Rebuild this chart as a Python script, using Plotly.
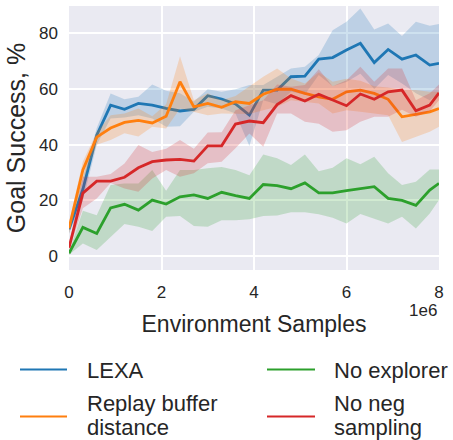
import plotly.graph_objects as go

# ---------------- data ----------------
x_steps_m = [0, 0.3, 0.6, 0.9, 1.2, 1.5, 1.8, 2.1, 2.4, 2.7, 3.0, 3.3, 3.6, 3.9,
             4.2, 4.5, 4.8, 5.1, 5.4, 5.7, 6.0, 6.3, 6.6, 6.9, 7.2, 7.5, 7.8, 8.0]

lexa_mean = [9.6, 24.0, 43.4, 54.2, 52.7, 54.8, 54.2, 53.0, 52.1, 52.7, 57.6, 56.4, 54.6, 50.6,
             59.6, 59.6, 64.4, 64.6, 70.7, 71.3, 74.0, 76.4, 69.5, 74.2, 70.7, 72.2, 68.6, 69.2]
lexa_upper = [11.0, 28.0, 46.0, 58.4, 56.3, 57.2, 61.6, 59.4, 58.5, 55.5, 59.9, 59.0, 59.9, 61.4,
              61.4, 64.4, 67.4, 68.0, 72.2, 81.1, 84.1, 88.9, 81.4, 83.5, 79.0, 84.1, 82.7, 83.3]
lexa_lower = [8.0, 20.0, 40.0, 49.4, 49.8, 50.6, 49.4, 46.4, 46.6, 51.8, 53.6, 53.0, 51.2, 39.5,
              56.0, 54.5, 59.0, 58.0, 65.0, 61.0, 62.5, 65.5, 60.0, 65.0, 62.0, 58.5, 56.0, 58.5]

replay_mean = [10.0, 30.9, 42.7, 46.0, 48.0, 48.7, 47.8, 50.2, 62.6, 53.6, 54.8, 53.4, 55.4, 54.8,
               58.1, 59.9, 59.9, 58.4, 57.2, 56.3, 59.0, 59.6, 58.4, 56.3, 50.0, 51.0, 51.8, 53.0]
replay_upper = [12.0, 34.0, 44.5, 50.6, 51.2, 53.0, 50.2, 54.5, 71.8, 56.0, 58.5, 56.0, 57.5, 61.0,
                64.4, 67.4, 63.8, 62.0, 66.0, 62.6, 63.7, 63.0, 61.0, 60.5, 59.6, 59.6, 59.0, 59.0]
replay_lower = [8.0, 27.0, 40.0, 41.7, 44.1, 42.9, 46.4, 45.8, 53.0, 51.8, 50.6, 51.2, 51.2, 51.0,
                52.4, 53.6, 56.0, 55.4, 54.8, 51.2, 52.4, 51.8, 51.2, 50.6, 41.0, 42.8, 44.6, 46.4]

noexp_mean = [1.0, 10.3, 8.1, 17.3, 18.6, 16.5, 20.1, 18.7, 21.3, 22.0, 20.7, 22.9, 21.7, 20.7,
              25.7, 25.3, 24.2, 26.3, 22.7, 22.7, 23.5, 24.2, 24.9, 20.7, 20.0, 18.2, 23.7, 26.1]
noexp_upper = [1.5, 16.3, 14.7, 25.5, 26.1, 26.1, 30.9, 23.5, 30.9, 30.9, 31.5, 32.0, 30.9, 29.0,
               36.5, 35.1, 32.7, 36.5, 30.5, 31.7, 35.1, 33.0, 35.7, 29.7, 25.5, 26.7, 31.1, 31.1]
noexp_lower = [0.5, 4.5, 2.2, 6.9, 11.5, 10.5, 9.0, 14.1, 14.4, 10.8, 10.5, 12.9, 12.9, 13.2,
               14.4, 14.6, 15.7, 15.7, 15.0, 13.8, 11.7, 15.1, 13.5, 11.7, 14.1, 9.9, 15.3, 20.1]

noneg_mean = [3.0, 22.6, 26.9, 26.9, 28.3, 31.7, 33.9, 34.5, 34.7, 34.1, 39.6, 39.6, 47.4, 48.5,
              47.9, 54.4, 57.6, 55.7, 58.1, 56.0, 54.0, 58.2, 56.3, 59.0, 59.6, 52.2, 54.2, 58.6]
noneg_upper = [4.0, 28.5, 28.5, 29.5, 33.2, 39.9, 37.4, 38.5, 41.7, 38.5, 44.4, 44.5, 52.4, 54.2,
               56.0, 61.6, 60.8, 61.4, 67.1, 61.0, 63.1, 68.0, 62.6, 67.4, 67.4, 56.0, 58.5, 61.6]
noneg_lower = [2.0, 17.2, 20.7, 26.2, 24.3, 23.1, 27.9, 30.9, 28.5, 29.7, 33.3, 33.9, 38.7, 44.0,
               39.3, 51.2, 51.2, 48.2, 47.5, 44.6, 45.2, 48.2, 50.0, 50.0, 52.5, 50.0, 52.0, 56.0]

series_names = ["LEXA", "Replay buffer<br>distance", "No explorer", "No neg<br>sampling"]
x_tick_vals_m = [0, 2, 4, 6, 8]
x_tick_text = ["0", "2", "4", "6", "8"]
y_tick_vals = [0, 20, 40, 60, 80]
y_tick_text = ["0", "20", "40", "60", "80"]

# ---------------- style ----------------
colors = ["#1f77b4", "#ff7f0e", "#2ca02c", "#d62728"]
band_colors = ["rgba(31,119,180,0.22)", "rgba(255,127,14,0.22)",
               "rgba(44,160,44,0.22)", "rgba(214,39,40,0.22)"]
FONT = "Liberation Sans, Arial, Helvetica, sans-serif"
TXT = "#262626"

W, H = 453, 440
L, R, T, B = 69, 14, 6, 170
PW, PH = W - L - R, H - T - B

def px_x(px):
    return (px - L) / PW

def px_y(py):
    return (H - B - py) / PH

x = [v * 1e6 for v in x_steps_m]
means = [lexa_mean, replay_mean, noexp_mean, noneg_mean]
uppers = [lexa_upper, replay_upper, noexp_upper, noneg_upper]
lowers = [lexa_lower, replay_lower, noexp_lower, noneg_lower]

fig = go.Figure()
for i in range(4):
    fig.add_trace(go.Scatter(x=x, y=lowers[i], mode="lines", line=dict(width=0),
                             hoverinfo="skip", showlegend=False))
    fig.add_trace(go.Scatter(x=x, y=uppers[i], mode="lines", line=dict(width=0),
                             fill="tonexty", fillcolor=band_colors[i],
                             hoverinfo="skip", showlegend=False))
    fig.add_trace(go.Scatter(x=x, y=means[i], mode="lines", name=series_names[i],
                             line=dict(color=colors[i], width=2.8), showlegend=False))

# manual legend (2 x 2 grid)
legend_layout = [
    (20, 67, 369.5, 86, [370]),
    (20, 67, 416.5, 86, [403, 427]),
    (267, 315, 369.5, 333, [370]),
    (267, 315, 416.5, 333, [403, 427]),
]
for i, (lx0, lx1, ly, tx, tys) in enumerate(legend_layout):
    fig.add_shape(type="line", xref="paper", yref="paper",
                  x0=px_x(lx0), x1=px_x(lx1), y0=px_y(ly), y1=px_y(ly),
                  line=dict(color=colors[i], width=2.2))
    parts = series_names[i].split("<br>")
    for part, ty in zip(parts, tys):
        fig.add_annotation(text=part, xref="paper", yref="paper",
                           x=px_x(tx - 1), y=px_y(ty), xanchor="left", yanchor="middle",
                           showarrow=False, font=dict(family=FONT, size=22, color=TXT))

# offset label
fig.add_annotation(text="1e6", xref="paper", yref="paper", x=px_x(439), y=px_y(310),
                   xanchor="right", yanchor="middle", showarrow=False,
                   font=dict(family=FONT, size=17, color=TXT))

fig.update_layout(
    width=W, height=H,
    margin=dict(l=L, r=R, t=T, b=B),
    paper_bgcolor="white",
    plot_bgcolor="#EAEAF2",
    font=dict(family=FONT, color=TXT),
    showlegend=False,
    xaxis=dict(range=[0, 8e6], tickvals=[v * 1e6 for v in x_tick_vals_m], ticktext=x_tick_text,
               showgrid=True, gridcolor="white", gridwidth=1.6, zeroline=False,
               showline=False, ticks="", ticklabelstandoff=10,
               tickfont=dict(size=17, color=TXT),
               title=dict(text="Environment Samples", font=dict(size=23, color=TXT), standoff=14)),
    yaxis=dict(range=[-5.0, 89.8], tickvals=y_tick_vals, ticktext=y_tick_text,
               showgrid=True, gridcolor="white", gridwidth=1.6, zeroline=False,
               showline=False, ticks="", ticklabelstandoff=10,
               tickfont=dict(size=17, color=TXT),
               title=dict(text="Goal Success, %", font=dict(size=25, color=TXT), standoff=6)),
)

fig.write_html("out.html", config={"displayModeBar": False},
               post_script="document.body.style.margin='0';document.body.style.padding='0';")
